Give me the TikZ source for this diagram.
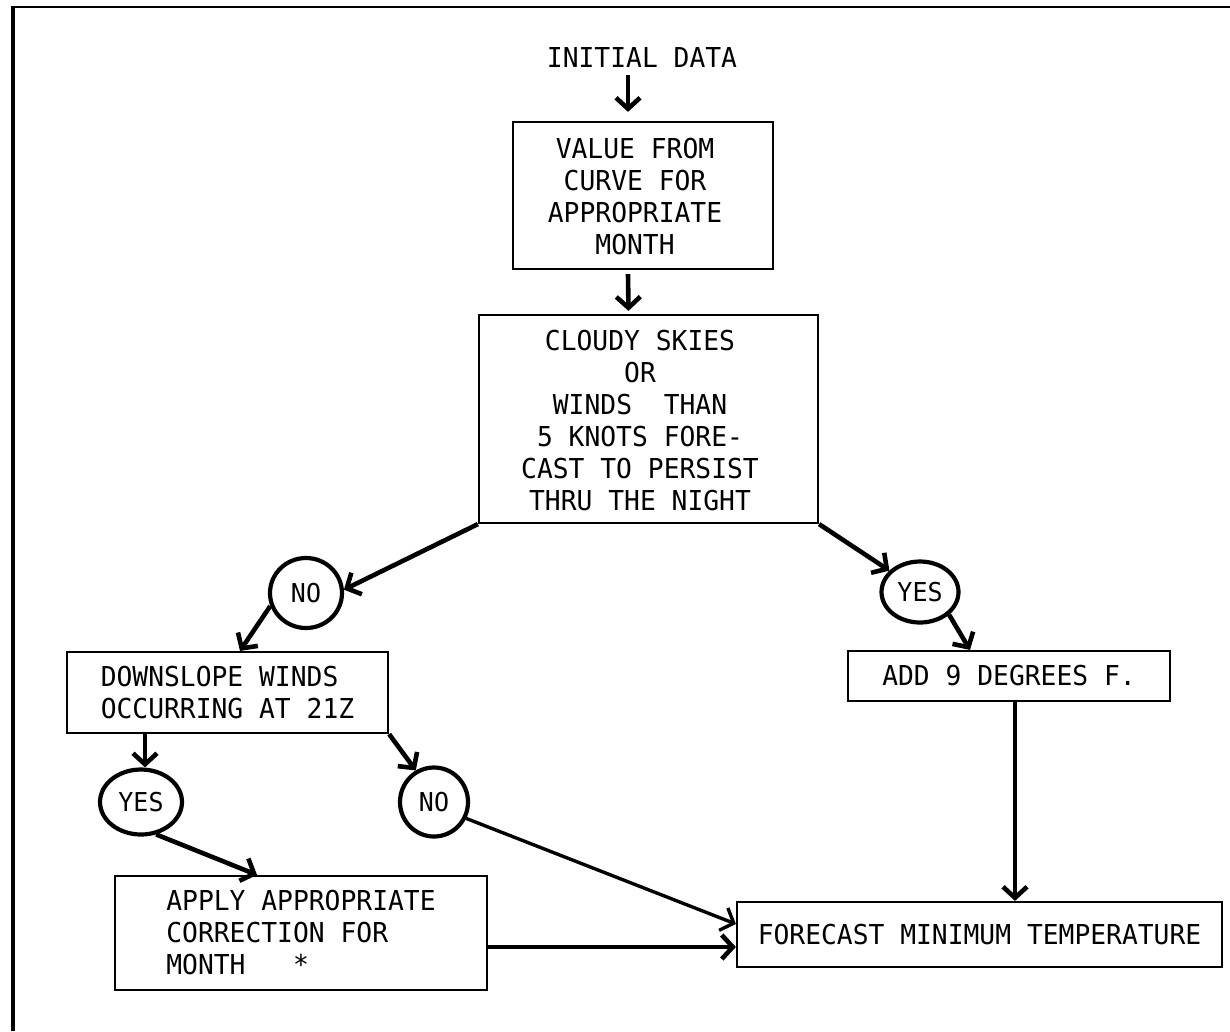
\documentclass[tikz,border=0pt]{standalone}
\usepackage{fontspec}
\newfontfamily\diafont{DejaVu Sans Mono}[FakeStretch=0.96]
\usetikzlibrary{arrows.meta,shapes.geometric}
\begin{document}
\begin{tikzpicture}[x=1pt,y=-1pt,
  txt/.style={inner sep=0pt, font=\diafont\fontsize{27.4}{32}\selectfont},
  box/.style={draw, line width=2.2pt, inner sep=0pt, font=\diafont\fontsize{27.4}{32}\selectfont},
  bubble/.style={draw, ellipse, line width=4.2pt, inner sep=0pt, font=\diafont\fontsize{26}{30}\selectfont},
  arr/.style={line width=4.6pt, -{Straight Barb[length=11pt,width=24pt]}},
  thinarr/.style={line width=3.4pt, -{Straight Barb[length=11pt,width=24pt]}}
]
\useasboundingbox (0,0) rectangle (1230,1031);
% frame
\draw[line width=4pt] (12.5,1031) -- (12.5,7);
\draw[line width=2.4pt] (10.5,7) -- (1230,7);

% nodes
\node[txt] (init) at (642,58) {INITIAL DATA};
\node[box, minimum width=260pt, minimum height=147pt] (b1) at (643,195.5) {};
\node[txt, align=center] (b1t) at (635,197) {VALUE FROM\\CURVE FOR\\APPROPRIATE\\MONTH};
\node[box, minimum width=339pt, minimum height=208pt] (b2) at (648.5,419) {};
\node[txt, align=center] (b2t) at (640,421) {CLOUDY SKIES\\OR\\WINDS\ \ THAN\\5 KNOTS FORE-\\CAST TO PERSIST\\THRU THE NIGHT};
\node[bubble, minimum width=72pt, minimum height=70pt] (no1) at (306,593) {NO};
\node[bubble, minimum width=77pt, minimum height=61pt] (yes2) at (920,592) {YES};
\node[box, minimum width=321pt, minimum height=81pt, align=left] (b3) at (227.5,692.5) {DOWNSLOPE WINDS\\OCCURRING AT 21Z};
\node[box, minimum width=322pt, minimum height=50pt] (b5) at (1009,676) {ADD 9 DEGREES F.};
\node[bubble, minimum width=82pt, minimum height=65pt] (yes1) at (141,802) {YES};
\node[bubble, minimum width=68pt, minimum height=69pt] (no2) at (434,802) {NO};
\node[box, minimum width=372pt, minimum height=114pt, align=left] (b4) at (301,933) {APPLY APPROPRIATE\\CORRECTION FOR\\MONTH\ \ \ *};
\node[box, minimum width=485pt, minimum height=65pt] (fmt) at (979.5,934.5) {FORECAST MINIMUM TEMPERATURE};

% connectors
\draw[arr] ([xshift=-14pt,yshift=-7pt]init.south) -- ([xshift=-15pt,yshift=9pt]b1.north);
\draw[arr] ([xshift=-15pt,yshift=-4pt]b1.south) -- ([xshift=-20pt,yshift=3pt]b2.north);
\draw[arr] (b2.south west) -- (no1.5);
\draw[arr] (no1.200) -- ([xshift=12.5pt]b3.north);
\draw[arr] ([xshift=-82.5pt]b3.south) -- ([xshift=4pt]yes1.north);
\draw[arr] (b3.south east) -- (no2.120);
\draw[arr] (yes1.-65) -- ([xshift=-44pt]b4.north);
\draw[thinarr] (no2.-27) -- ([yshift=10.5pt]fmt.west);
\draw[arr] ([yshift=-14pt]b4.east) -- ([yshift=-12.5pt]fmt.west);
\draw[arr] (b2.south east) -- (yes2.145);
\draw[arr] (yes2.-38) -- ([xshift=-39pt]b5.north);
\draw[arr] ([xshift=6pt]b5.south) -- ([xshift=35.5pt]fmt.north);
\end{tikzpicture}
\end{document}
